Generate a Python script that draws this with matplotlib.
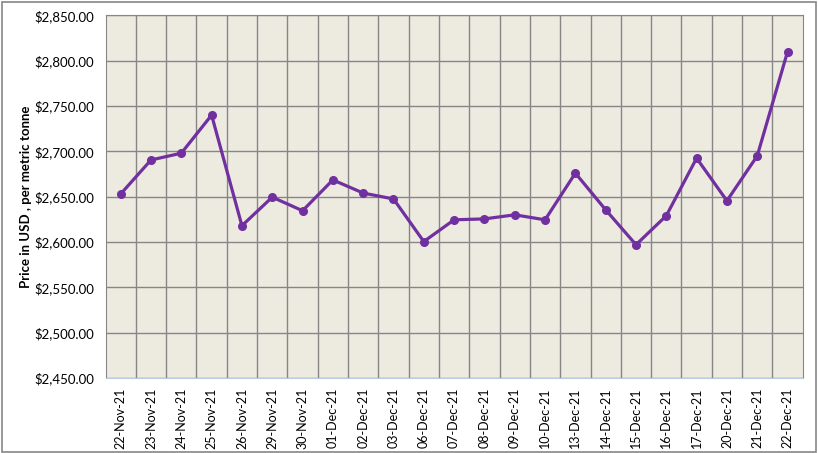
import matplotlib
matplotlib.use("Agg")
import matplotlib.pyplot as plt
from matplotlib.patches import Rectangle
from matplotlib.ticker import FuncFormatter, MultipleLocator

# dates and prices (USD per metric tonne)
dates = ["22-Nov-21", "23-Nov-21", "24-Nov-21", "25-Nov-21", "26-Nov-21",
         "29-Nov-21", "30-Nov-21", "01-Dec-21", "02-Dec-21", "03-Dec-21",
         "06-Dec-21", "07-Dec-21", "08-Dec-21", "09-Dec-21", "10-Dec-21",
         "13-Dec-21", "14-Dec-21", "15-Dec-21", "16-Dec-21", "17-Dec-21",
         "20-Dec-21", "21-Dec-21", "22-Dec-21"]
prices = [2653, 2690.5, 2698, 2740, 2618, 2649.5, 2634.5, 2668.5, 2654, 2647.5,
          2600.5, 2624.5, 2625.5, 2630, 2624.5, 2676, 2635.5, 2597, 2629,
          2692.5, 2645.5, 2695, 2810]

plt.rcParams['font.family'] = ['Lato', 'DejaVu Sans']

fig = plt.figure(figsize=(8.18, 4.53), dpi=100)
ax = fig.add_axes([0.129, 0.1656, 0.8523, 0.8004])

x = list(range(len(dates)))
ax.plot(x, prices, color='#7030A0', linewidth=2.3, marker='o', markersize=5.5, zorder=3)

ax.set_facecolor('#EDEAE0')
ax.set_xlim(-0.5, len(dates) - 0.5)
ax.set_ylim(2450, 2850)
ax.yaxis.set_major_locator(MultipleLocator(50))
ax.yaxis.set_major_formatter(FuncFormatter(lambda v, p: "${:,.2f}".format(v)))

ax.set_xticks(x)
ax.set_xticklabels(dates, rotation=90, fontsize=9)
ax.set_xticks([i + 0.5 for i in x[:-1]], minor=True)
ax.tick_params(axis='x', which='both', length=0, pad=7)
ax.tick_params(axis='y', length=0, labelsize=9.5, pad=8)

ax.grid(True, axis='y', which='major', color='#868686', linewidth=1)
ax.grid(True, axis='x', which='minor', color='#868686', linewidth=1)
ax.grid(False, axis='x', which='major')

for s in ['left', 'right', 'top']:
    ax.spines[s].set_color('#868686')
ax.spines['bottom'].set_color('#B9CDE5')

ax.set_ylabel("Price in USD , per metric tonne", fontsize=9.5, fontweight='bold', labelpad=2)

# outer chart border
fig.patches.append(Rectangle((0.002, 0.003), 0.996, 0.993, transform=fig.transFigure,
                             fill=False, edgecolor='#868686', linewidth=1.2))

fig.savefig("out.png", dpi=100)
